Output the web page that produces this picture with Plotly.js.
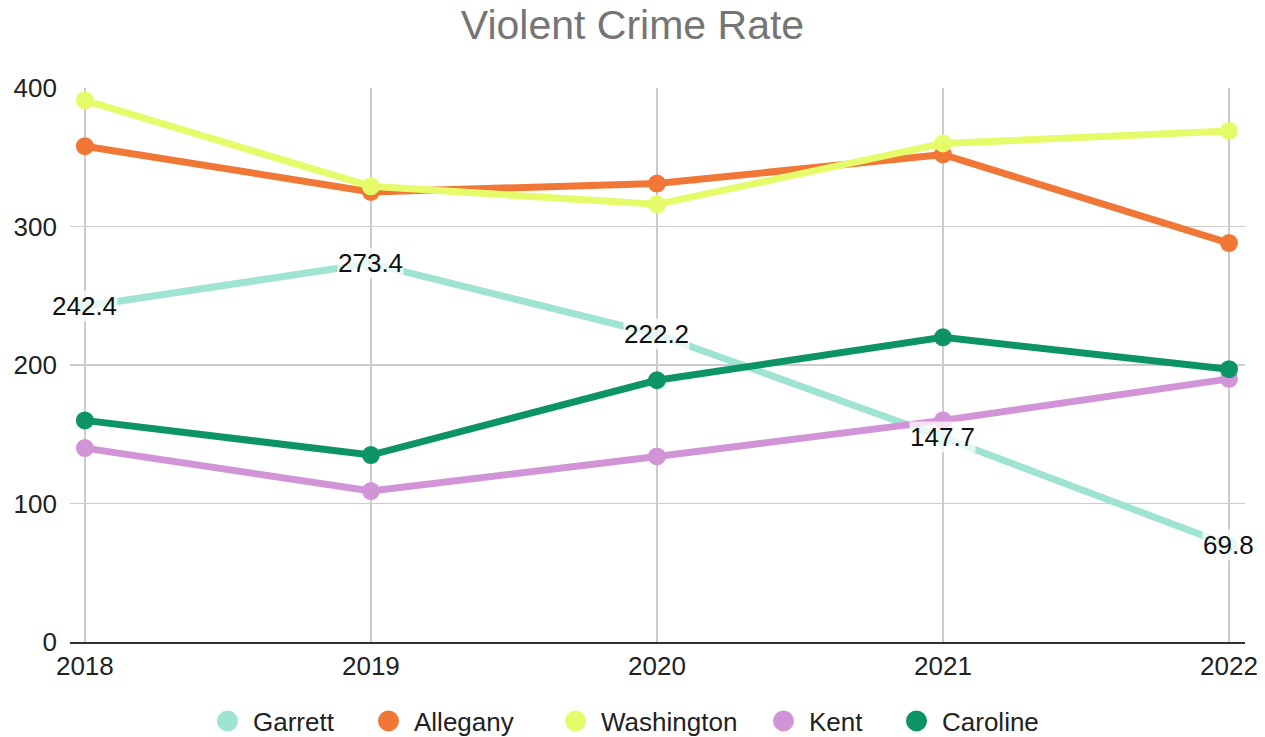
<!DOCTYPE html>
<html>
<head>
<meta charset="utf-8">
<script src="https://cdn.plot.ly/plotly-3.0.1.min.js"></script>
<style>html,body{margin:0;padding:0;background:#fff}#chart{width:1265px;height:737px}</style>
</head>
<body>
<div id="chart"></div>
<script>
const years = [2018, 2019, 2020, 2021, 2022];
const garrett = [242.4, 273.4, 222.2, 147.7, 69.8];
const allegany = [358, 325, 331, 352, 288];
const washington = [391, 329, 316, 360, 369];
const kent = [140, 109, 134, 160, 190];
const caroline = [160, 135, 189, 220, 197];
const seriesNames = ['Garrett', 'Allegany', 'Washington', 'Kent', 'Caroline'];
const seriesValues = [garrett, allegany, washington, kent, caroline];
const seriesColors = ['#9fe3d3', '#f07736', '#e5fb6a', '#d194d6', '#0c9467'];
const yTicks = [0, 100, 200, 300, 400];

// legend symbol centres (px, layout only)
const legendCenters = [227, 388, 575, 783, 916];

const FONT = 'Liberation Sans, Arial, sans-serif';
const traces = [];
seriesNames.forEach((name, i) => {
  traces.push({
    x: years, y: seriesValues[i], name: name, type: 'scatter', mode: 'lines+markers',
    line: {color: seriesColors[i], width: 7},
    marker: {color: seriesColors[i], size: 18},
    showlegend: false, hoverinfo: 'x+y+name'
  });
});
seriesNames.forEach((name, i) => {
  traces.push({
    x: [null], y: [null], name: name, type: 'scatter', mode: 'markers',
    marker: {color: seriesColors[i], size: 16, line: {color: seriesColors[i], width: 5}},
    showlegend: true, legend: i === 0 ? 'legend' : 'legend' + (i + 1)
  });
});

const annotations = years.map((yr, j) => ({
  x: yr, y: garrett[j], xref: 'x', yref: 'y', text: String(garrett[j]),
  showarrow: false, font: {family: FONT, size: 26, color: '#111'},
  bgcolor: 'rgba(255,255,255,0.75)', borderpad: 0
}));

const layout = {
  width: 1265, height: 737,
  paper_bgcolor: '#fff', plot_bgcolor: '#fff',
  margin: {l: 70, r: 20, t: 88, b: 95},
  title: {text: 'Violent Crime Rate', font: {family: FONT, size: 41, color: '#757575'},
          x: 0.5, xref: 'container', xanchor: 'center', y: 1 - 25 / 737, yref: 'container', yanchor: 'middle'},
  xaxis: {
    range: [2017.948, 2022.056], tickvals: years, ticktext: years.map(String),
    showgrid: true, gridcolor: '#cccccc', gridwidth: 1.5, zeroline: false,
    showline: true, linecolor: '#333333', linewidth: 1.5,
    ticks: '', tickfont: {family: FONT, size: 26, color: '#222'}, fixedrange: true
  },
  yaxis: {
    range: [0, 400], tickvals: yTicks, ticktext: yTicks.map(String),
    showgrid: true, gridcolor: '#cccccc', gridwidth: 1.5, zeroline: false,
    ticks: '', ticklabelstandoff: 12,
    tickfont: {family: FONT, size: 26, color: '#222'}, fixedrange: true
  },
  annotations: annotations,
  showlegend: true
};
legendCenters.forEach((c, i) => {
  const key = i === 0 ? 'legend' : 'legend' + (i + 1);
  layout[key] = {
    orientation: 'h', x: (c - 25) / 1265, xref: 'container', xanchor: 'left',
    y: 16 / 737, yref: 'container', yanchor: 'middle',
    font: {family: FONT, size: 26, color: '#222'}, itemwidth: 41,
    bgcolor: 'rgba(0,0,0,0)', borderwidth: 0
  };
});

Plotly.newPlot('chart', traces, layout, {displayModeBar: false, staticPlot: true});
</script>
</body>
</html>
